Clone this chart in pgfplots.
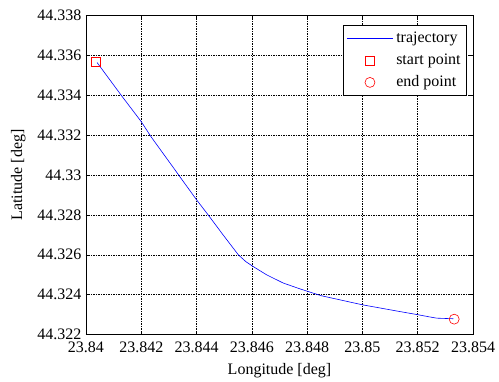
\documentclass[border=0pt]{standalone}
\usepackage{fontspec}
\setmainfont{Liberation Serif}
\usepackage{pgfplots}
\pgfplotsset{compat=1.18}
\pgfplotsset{
  lineleg/.style={legend image code/.code={\draw[##1] (0bp,0bp) -- (46bp,0bp);}},
  markleg/.style={legend image code/.code={\draw[##1] plot coordinates {(23bp,0bp)};}},
}
\begin{document}
\fontsize{16bp}{19bp}\selectfont
\begin{tikzpicture}
\useasboundingbox (-86bp,-47.5bp) rectangle (413bp,334.5bp);
\begin{axis}[
  at={(0,0)}, anchor=south west,
  scale only axis, width=387bp, height=318.8bp,
  xmin=23.84, xmax=23.854, ymin=44.322, ymax=44.338,
  xtick={23.84,23.842,23.844,23.846,23.848,23.85,23.852,23.854},
  xticklabels={23.84,23.842,23.844,23.846,23.848,23.85,23.852,23.854},
  ytick={44.322,44.324,44.326,44.328,44.33,44.332,44.334,44.336,44.338},
  yticklabels={44.322,44.324,44.326,44.328,44.33,44.332,44.334,44.336,44.338},
  scaled ticks=false,
  tick align=inside, tick style={black, line width=0.5pt}, major tick length=3bp,
  axis line style={black, line width=0.6pt},
  grid=major, major grid style={black, line width=0.5pt, dash pattern=on 1.5bp off 1bp},
  ticklabel style={font=\fontsize{16bp}{19bp}\selectfont},
  y tick label style={xshift=1bp},
  x tick label style={yshift=-1.5bp},
  xlabel={Longitude [deg]}, ylabel={Latitude [deg]},
  every axis x label/.style={at={(axis description cs:0.5,-0.1145)}, anchor=center, font=\fontsize{16bp}{19bp}\selectfont},
  every axis y label/.style={at={(axis description cs:-0.175,0.5)}, rotate=90, anchor=center, font=\fontsize{16bp}{19bp}\selectfont},
  legend cell align=left,
  legend style={at={(0.9845,0.9705)}, anchor=north east, draw=black, line width=0.6pt, fill=white,
    font=\fontsize{16bp}{19bp}\selectfont, inner xsep=3bp, inner ysep=2bp, row sep=0bp,
    nodes={inner xsep=3bp, inner ysep=2.5bp, text height=12.5bp, text depth=4.5bp}},
]
\addplot[blue, line width=0.6pt, lineleg] coordinates {
(23.84040,44.33565)
(23.84131,44.33394)
(23.84200,44.33268)
(23.84235,44.33193)
(23.84322,44.33026)
(23.84340,44.32991)
(23.84400,44.32876)
(23.84442,44.32800)
(23.84497,44.32698)
(23.84551,44.32600)
(23.84578,44.32566)
(23.84605,44.32541)
(23.84654,44.32499)
(23.84714,44.32458)
(23.84774,44.32429)
(23.84850,44.32395)
(23.85000,44.32349)
(23.85136,44.32315)
(23.85202,44.32299)
(23.85240,44.32289)
(23.85269,44.32282)
(23.85329,44.32279)
};
\addlegendentry{trajectory}
\addplot[only marks, mark=square, red, mark size=4.5bp, mark options={line width=0.6pt}, markleg] coordinates {(23.84037,44.33569)};
\addlegendentry{start point}
\addplot[only marks, mark=o, red, mark size=5bp, mark options={line width=0.6pt}, markleg] coordinates {(23.85332,44.32277)};
\addlegendentry{end point}
\end{axis}
\end{tikzpicture}
\end{document}
